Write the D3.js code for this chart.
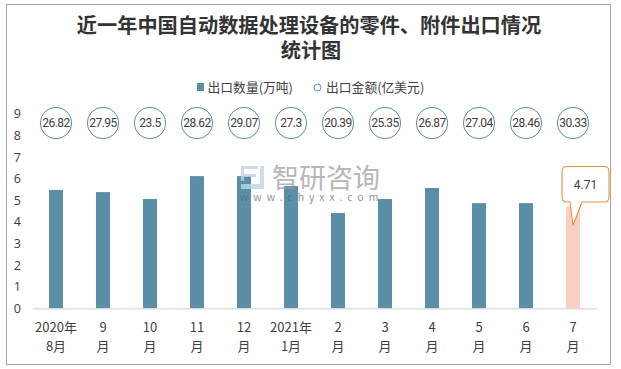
<!DOCTYPE html>
<html>
<head>
<meta charset="utf-8">
<script src="https://cdnjs.cloudflare.com/ajax/libs/d3/7.8.5/d3.min.js"></script>
<style>
html, body { margin: 0; padding: 0; background: #fff; }
svg { display: block; }
text { font-family: "Noto Sans CJK SC", "Noto Sans", sans-serif; }
</style>
</head>
<body>
<div id="chart"></div>
<script>
const months = ["2020年8月", "9月", "10月", "11月", "12月", "2021年1月", "2月", "3月", "4月", "5月", "6月", "7月"];
const monthLines = [["2020年", "8月"], ["9", "月"], ["10", "月"], ["11", "月"], ["12", "月"], ["2021年", "1月"],
    ["2", "月"], ["3", "月"], ["4", "月"], ["5", "月"], ["6", "月"], ["7", "月"]];
const quantity = [5.48, 5.38, 5.06, 6.12, 6.12, 5.66, 4.41, 5.06, 5.57, 4.87, 4.87, 4.71];
const amount = [26.82, 27.95, 23.5, 28.62, 29.07, 27.3, 20.39, 25.35, 26.87, 27.04, 28.46, 30.33];
const yTicks = [0, 1, 2, 3, 4, 5, 6, 7, 8, 9];
const titleLines = ["近一年中国自动数据处理设备的零件、附件出口情况", "统计图"];
const legendNames = ["出口数量(万吨)", "出口金额(亿美元)"];

const width = 621, height = 369;
const barColor = "#5b8fa8", lastColor = "#f8d0c4", textColor = "#404040";

const svg = d3.select("#chart").append("svg")
    .attr("width", width)
    .attr("height", height);

// outer frame
svg.append("rect")
    .attr("x", 6.5).attr("y", 4.5)
    .attr("width", 604).attr("height", 360)
    .attr("fill", "#fff")
    .attr("stroke", "#a6a6a6");

// title
svg.selectAll(".title")
    .data(titleLines)
    .join("text")
    .attr("class", "title")
    .attr("x", (d, i) => i === 0 ? 309 : 311)
    .attr("y", (d, i) => 33 + i * 25)
    .attr("text-anchor", "middle")
    .attr("font-size", 20.2)
    .attr("font-weight", 700)
    .attr("fill", "#333")
    .text(d => d);

const x = d3.scaleBand()
    .domain(months)
    .range([32.5, 596.5])
    .paddingInner(0.702)
    .paddingOuter(0.351);

const y = d3.scaleLinear()
    .domain([0, 9])
    .range([308.3, 113.9]);

const center = d => x(d) + x.bandwidth() / 2;

// legend
svg.append("rect")
    .attr("x", 197).attr("y", 83)
    .attr("width", 7).attr("height", 8)
    .attr("fill", barColor);
svg.append("text")
    .attr("x", 207.5).attr("y", 91.5)
    .attr("font-size", 12.8)
    .attr("fill", textColor)
    .text(legendNames[0]);
svg.append("circle")
    .attr("cx", 317.5).attr("cy", 87.5).attr("r", 3.5)
    .attr("fill", "#fff")
    .attr("stroke", barColor);
svg.append("text")
    .attr("x", 326).attr("y", 91.5)
    .attr("font-size", 12.8)
    .attr("fill", textColor)
    .text(legendNames[1]);

// bars
svg.selectAll(".bar")
    .data(quantity)
    .join("rect")
    .attr("class", "bar")
    .attr("x", (d, i) => x(months[i]))
    .attr("y", d => y(d))
    .attr("width", x.bandwidth())
    .attr("height", d => y(0) - y(d))
    .attr("fill", (d, i) => i === quantity.length - 1 ? lastColor : barColor);

// axes
const xAxis = svg.append("g")
    .attr("transform", `translate(0,${y(0)})`)
    .call(d3.axisBottom(x).tickSize(0).tickFormat(""));
xAxis.select(".domain").attr("stroke", "#d9d9d9").attr("stroke-width", 1.2);

xAxis.selectAll(".tick text").remove();
xAxis.selectAll(".tick")
    .append("text")
    .attr("text-anchor", "middle")
    .attr("font-size", 13)
    .attr("fill", textColor)
    .selectAll("tspan")
    .data((d, i) => monthLines[i])
    .join("tspan")
    .attr("x", 0)
    .attr("y", (d, i) => 23.5 + i * 19)
    .text(d => d);

const yAxis = svg.append("g")
    .attr("transform", "translate(24,0)")
    .call(d3.axisLeft(y).tickValues(yTicks).tickSize(0).tickPadding(3));
yAxis.select(".domain").remove();
yAxis.selectAll("text")
    .attr("font-size", 12.5)
    .attr("fill", textColor)
    .style("font-family", '"Open Sans", sans-serif');

// watermark
const mark = svg.append("g");
mark.append("path")
    .attr("d", "M241 166h17v3h-14v5h12v3h-12v4h-3z")
    .attr("fill", "#c5cfe0")
    .attr("opacity", 0.8);
mark.append("path")
    .attr("d", "M260 166h4v23h-23v-5h19z")
    .attr("fill", "#bcd6ee")
    .attr("opacity", 0.8);
mark.append("text")
    .attr("x", 272).attr("y", 188)
    .attr("font-size", 27)
    .attr("fill", "#999")
    .attr("opacity", 0.7)
    .text("智研咨询");
mark.append("text")
    .attr("x", 240).attr("y", 200.5)
    .attr("font-size", 10.5)
    .attr("letter-spacing", 4.95)
    .attr("fill", "#666")
    .attr("opacity", 0.7)
    .text("www.chyxx.com");

// amount bubbles, all on one row
const amountRow = 123;
svg.selectAll(".bubble")
    .data(amount)
    .join("circle")
    .attr("class", "bubble")
    .attr("cx", (d, i) => center(months[i]))
    .attr("cy", amountRow)
    .attr("r", 15.7)
    .attr("fill", "#fff")
    .attr("stroke", barColor);
svg.selectAll(".bubble-label")
    .data(amount)
    .join("text")
    .attr("class", "bubble-label")
    .attr("x", (d, i) => center(months[i]))
    .attr("y", amountRow + 4.3)
    .attr("text-anchor", "middle")
    .attr("font-size", 12)
    .attr("letter-spacing", -0.5)
    .attr("fill", textColor)
    .style("font-family", "Roboto, sans-serif")
    .text(d => d);

// callout on the last bar
const lastX = center(months[months.length - 1]);
const lastY = y(quantity[quantity.length - 1]);
const calloutPath = d3.path();
calloutPath.moveTo(567, 166.5);
calloutPath.lineTo(604, 166.5);
calloutPath.quadraticCurveTo(609, 166.5, 609, 171.5);
calloutPath.lineTo(609, 197);
calloutPath.quadraticCurveTo(609, 202, 604, 202);
calloutPath.lineTo(582, 202);
calloutPath.lineTo(lastX, lastY + 19);
calloutPath.lineTo(570, 202);
calloutPath.lineTo(567, 202);
calloutPath.quadraticCurveTo(562, 202, 562, 197);
calloutPath.lineTo(562, 171.5);
calloutPath.quadraticCurveTo(562, 166.5, 567, 166.5);
svg.append("path")
    .attr("d", calloutPath.toString())
    .attr("fill", "#fff")
    .attr("stroke", "#e8923a")
    .attr("stroke-width", 1.1);
svg.append("text")
    .attr("x", 585.5).attr("y", 188.5)
    .attr("text-anchor", "middle")
    .attr("font-size", 12)
    .attr("fill", textColor)
    .style("font-family", "Roboto, sans-serif")
    .text(quantity[quantity.length - 1]);
</script>
</body>
</html>
